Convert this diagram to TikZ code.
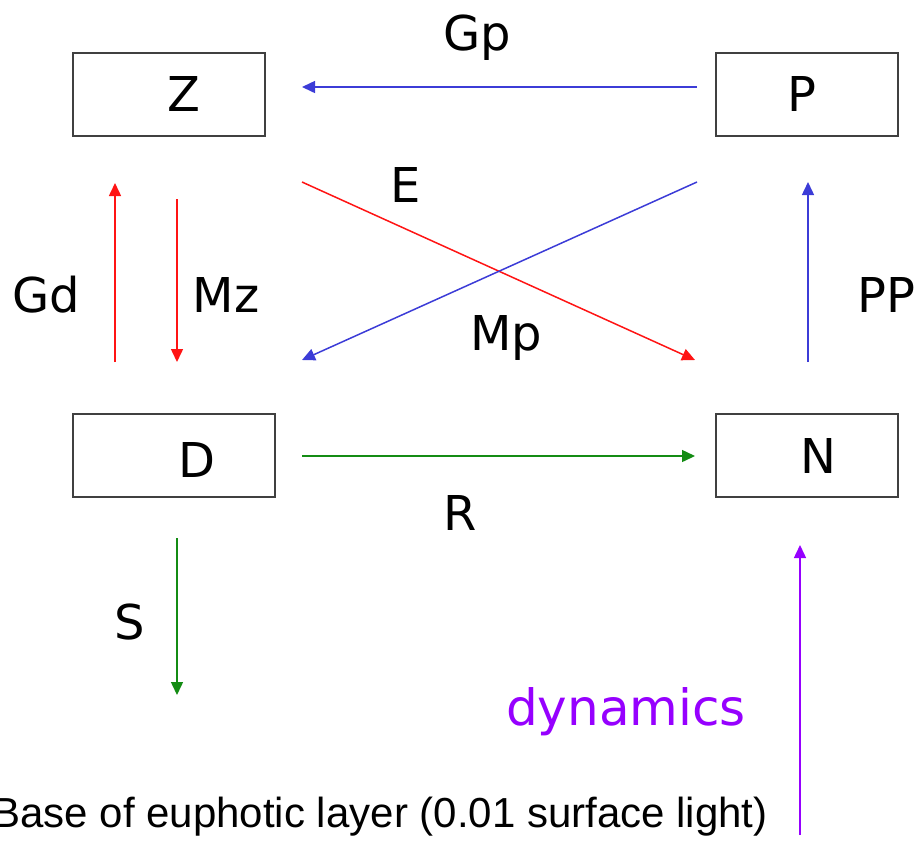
\documentclass[tikz,border=0pt]{standalone}
\usepackage{fontspec}
\setmainfont{DejaVu Sans}
\newfontfamily\arialfont{Liberation Sans}
\usetikzlibrary{arrows.meta}
\definecolor{cblue}{RGB}{60,60,215}
\definecolor{cred}{RGB}{255,20,20}
\definecolor{cgreen}{RGB}{20,140,20}
\definecolor{cpurple}{RGB}{150,0,255}
\tikzset{
  box/.style={draw=black!75,line width=1pt,minimum width=96pt,minimum height=41.5pt,inner sep=0pt},
  lbl/.style={font=\fontsize{24}{28}\selectfont,inner sep=0pt},
  flow/.style={line width=0.75pt,-{Triangle[length=6.5pt,width=6pt]}}
}
\begin{document}
\begin{tikzpicture}[x=0.5pt,y=-0.5pt]
\useasboundingbox (0,0) rectangle (916,842);
\clip (0,0) rectangle (916,842);
% boxes
\node[box,minimum width=96pt] (Zb) at (169,94.5) {};
\node[box,minimum width=91pt] (Pb) at (807,94.5) {};
\node[box,minimum width=101pt] (Db) at (174,455.5) {};
\node[box,minimum width=91pt] (Nb) at (807,455) {};
\node[lbl] (Z) at (184,94) {Z};
\node[lbl] (P) at (802,94) {P};
\node[lbl] (D) at (197,460) {D};
\node[lbl] (N) at (818,456) {N};
% coordinates
\coordinate (gp1) at (697,87); \coordinate (gp2) at (302,87);
\coordinate (gd1) at (115,362); \coordinate (gd2) at (115,183);
\coordinate (mz1) at (177,199); \coordinate (mz2) at (177,362);
\coordinate (e1) at (302,182); \coordinate (e2) at (695,360);
\coordinate (mp1) at (697,182); \coordinate (mp2) at (302,360);
\coordinate (pp1) at (808,362); \coordinate (pp2) at (808,182);
\coordinate (r1) at (302,456); \coordinate (r2) at (695,456);
\coordinate (s1) at (177,538); \coordinate (s2) at (177,695);
\coordinate (dy1) at (800,835); \coordinate (dy2) at (800,545);
% arrows
\draw[flow,cblue] (gp1) -- (gp2);
\draw[flow,cred] (gd1) -- (gd2);
\draw[flow,cred] (mz1) -- (mz2);
\draw[flow,cred] (e1) -- (e2);
\draw[flow,cblue] (mp1) -- (mp2);
\draw[flow,cblue] (pp1) -- (pp2);
\draw[flow,cgreen] (r1) -- (r2);
\draw[flow,cgreen] (s1) -- (s2);
\draw[flow,cpurple] (dy1) -- (dy2);
% labels
\node[lbl] (lgp) at (477,38) {Gp};
\node[lbl] (lgd) at (46,295) {Gd};
\node[lbl] (lmz) at (226,295) {Mz};
\node[lbl] (le) at (406,185) {E};
\node[lbl] (lmp) at (506,338) {Mp};
\node[lbl,anchor=west] (lpp) at (857,295) {PP};
\node[lbl] (lr) at (460,513) {R};
\node[lbl] (ls) at (130,622) {S};
\node[lbl,text=cpurple,font=\fontsize{25}{28}\selectfont] (ldy) at (626,712) {dynamics};
\node[inner sep=0pt,anchor=base east,font=\arialfont\fontsize{21}{25}\selectfont] (base) at (768,827) {Base of euphotic layer (0.01 surface light)};
\end{tikzpicture}
\end{document}
